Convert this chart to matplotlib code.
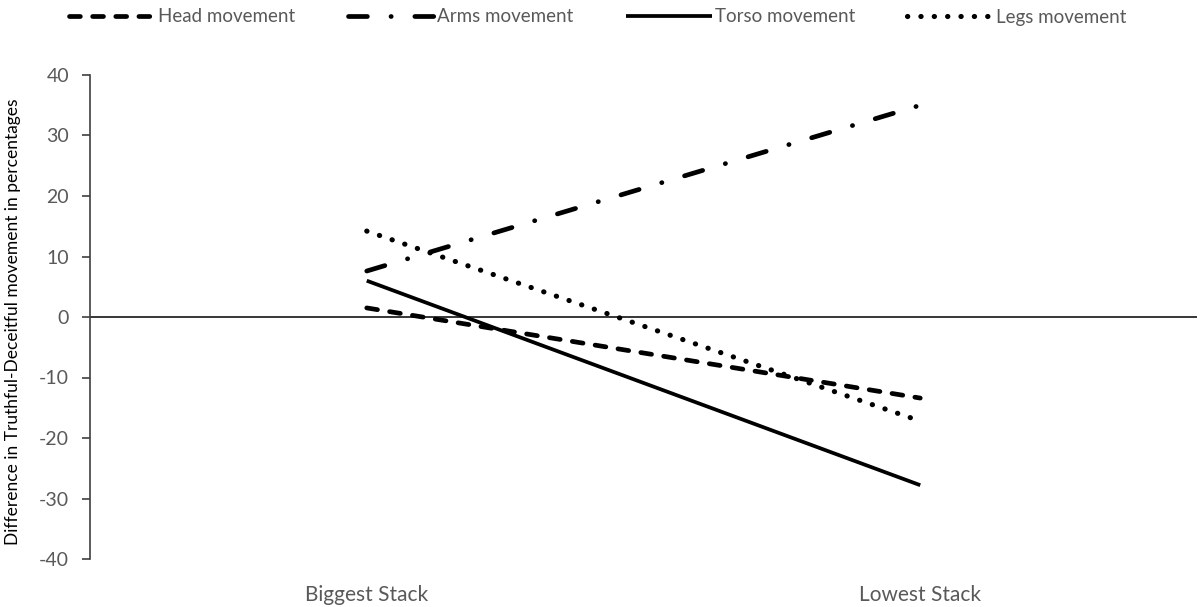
import matplotlib
matplotlib.use("Agg")
import matplotlib.pyplot as plt

plt.rcParams['font.family'] = ['Lato', 'DejaVu Sans']
plt.rcParams['axes.unicode_minus'] = False

categories = ["Biggest Stack", "Lowest Stack"]
head = [1.5, -13.4]
arms = [7.6, 35.0]
torso = [6.0, -27.8]
legs = [14.2, -17.2]
series_names = ["Head movement", "Arms movement", "Torso movement", "Legs movement"]
yticks = [-40, -30, -20, -10, 0, 10, 20, 30, 40]

fig = plt.figure(figsize=(12.02, 6.07), dpi=100)
ax = fig.add_axes([90/1202, 1-559/607, (1197-90)/1202, (559-75)/607])

x = list(range(len(categories)))
grey = "#595959"
l1, = ax.plot(x, head, color="black", lw=3.4, linestyle=(0, (2.3, 2.6)),
              dash_capstyle="round", label=series_names[0])
l2, = ax.plot(x, arms, color="black", lw=3.4, linestyle=(0, (4.0, 5.0, 0.05, 5.0)),
              dash_capstyle="round", label=series_names[1])
l3, = ax.plot(x, torso, color="black", lw=2.7, solid_capstyle="butt", label=series_names[2])
l4, = ax.plot(x, legs, color="black", lw=3.7, linestyle=(0, (0.05, 2.55)),
              dash_capstyle="round", label=series_names[3])

ax.axhline(0, color="black", lw=1.1, zorder=1)
ax.set_xlim(-0.5, 1.5)
ax.set_ylim(-40, 40)
ax.set_yticks(yticks)
ax.set_xticks(x)
ax.set_xticklabels(categories)
ax.tick_params(axis="x", length=0, pad=19, labelsize=15, labelcolor=grey)
ax.tick_params(axis="y", length=6, width=1.2, direction="out", color="#404040",
               labelsize=14, labelcolor=grey, pad=9)
for s in ["top", "right", "bottom"]:
    ax.spines[s].set_visible(False)
ax.spines["left"].set_color("#404040")
ax.spines["left"].set_linewidth(1.2)

fig.text(13/1202, 1-322/607, "Difference in Truthful-Deceitful movement in percentages",
         rotation=90, va="center", ha="center", fontsize=12.5, color="black")

fig.legend(handles=[l1, l2, l3, l4], loc="center", bbox_to_anchor=(598/1202, 1-17/607),
           ncol=4, frameon=False, fontsize=13.5, handlelength=4.6, handletextpad=0.15,
           columnspacing=2.8, labelcolor=grey)

fig.savefig("out.png", dpi=100)
